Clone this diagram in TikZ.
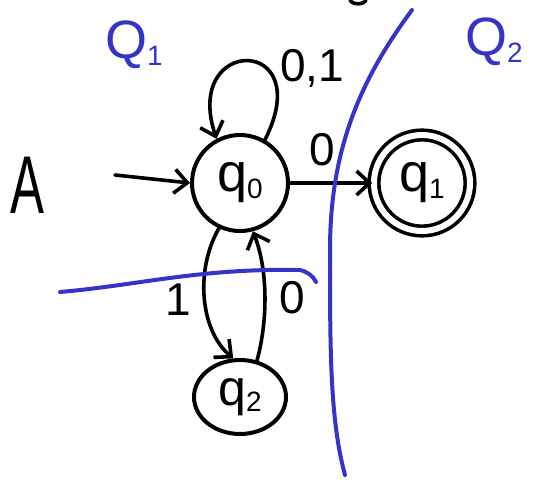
\documentclass[tikz,border=0pt]{standalone}
\usepackage{fontspec}
\setmainfont{Liberation Sans}
\usetikzlibrary{arrows.meta,shapes.geometric}
\definecolor{pen}{RGB}{52,52,200}
\newcommand{\sbx}[1]{\raisebox{-0.12em}{\fontsize{28}{28}\selectfont #1}}
\tikzset{
  st/.style={draw,circle,line width=4pt,minimum size=96pt,inner sep=0pt,font=\fontsize{54}{54}\selectfont},
  edge/.style={line width=3.6pt,-{Straight Barb[length=13pt,width=24pt,line width=3.6pt]}},
  lbl/.style={font=\fontsize{46}{46}\selectfont},
  blue line/.style={pen,line width=4pt,line cap=round},
  qlbl/.style={pen,font=\fontsize{54}{54}\selectfont}
}
\begin{document}
\begin{tikzpicture}[x=1pt,y=-1pt,line cap=round,line join=round]
\useasboundingbox (0,0) rectangle (533,483);
% states
\node[st] (q0) at (240,183) {q\sbx{0}};
\node[st,minimum size=96pt,double distance=6pt,line width=3.6pt] (q1) at (422,183) {q\sbx{1}};
\node[draw,ellipse,line width=4pt,minimum width=92pt,minimum height=74pt,inner sep=0pt,font=\fontsize{50}{50}\selectfont] (q2) at (240,397) {q\sbx{2}};
% labels
\node[font=\fontsize{82}{82}\selectfont,xscale=0.62] (A) at (27,185) {A};
\coordinate (init) at (115,175);
\draw[edge] (init) -- (q0.west);
% self loop
\draw[edge] (q0.60) .. controls (318,35) and (182,35) .. (q0.118);
\node[lbl] (l01) at (312,68) {0,1};
% q0 -> q1
\draw[edge] (q0.east) -- (q1.west);
\node[lbl] (l0a) at (322,150) {0};
% q0 -> q2
\draw[edge] (q0.-115) .. controls (195,270) and (200,330) .. (q2.100);
\node[lbl] (l1) at (178,300) {1};
% q2 -> q0
\draw[edge] (q2.65) .. controls (268,320) and (268,270) .. (q0.-75);
\node[lbl] (l0b) at (292,298) {0};
% blue partition lines
\draw[blue line] (412,10) .. controls (360,80) and (330,150) .. (330,250) .. controls (330,350) and (330,420) .. (345,475);
\draw[blue line] (60,292) .. controls (140,285) and (200,268) .. (300,270) .. controls (308,272) and (313,276) .. (316,282);
\node[qlbl] (Q1) at (134,45) {Q\sbx{1}};
\node[qlbl] (Q2) at (494,42) {Q\sbx{2}};
% cut-off mark at top
\draw[line width=3.6pt] (350,0) .. controls (352,5) and (364,5) .. (366,0);
\end{tikzpicture}
\end{document}
